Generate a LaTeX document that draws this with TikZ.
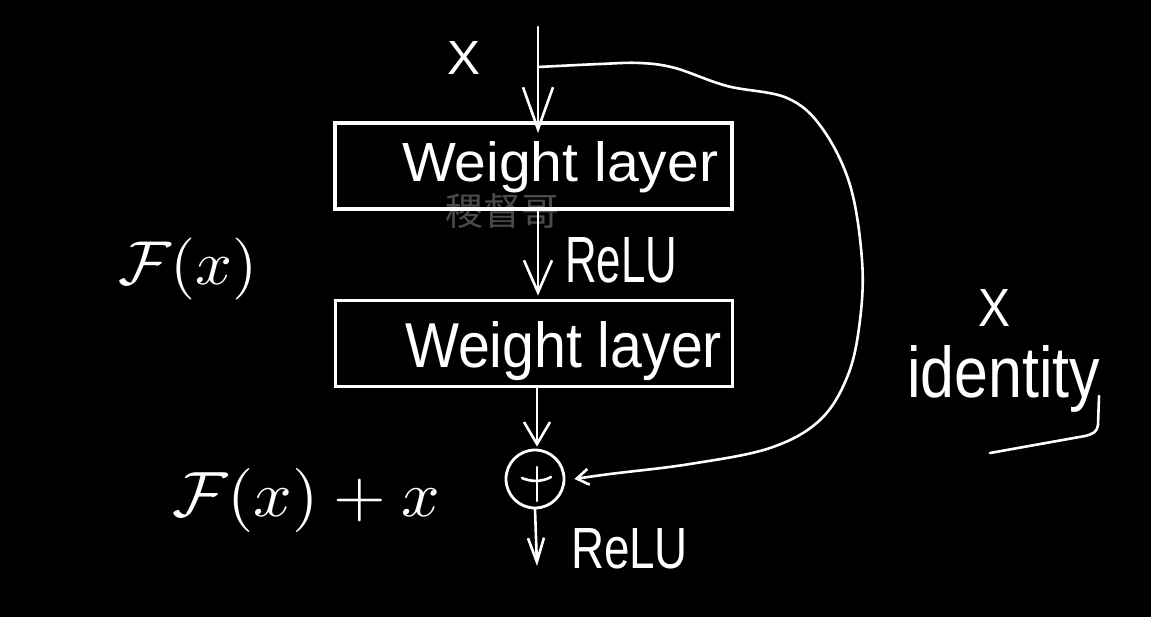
\documentclass[tikz,border=0pt]{standalone}
\usepackage{fontspec}
\usepackage{graphicx}
\setmainfont{Liberation Sans}
\newfontfamily\cjk{Noto Sans CJK SC}
\usetikzlibrary{arrows.meta,calc}
\definecolor{wmgray}{HTML}{4A4A4A}
\begin{document}
\begin{tikzpicture}[x=1pt,y=-1pt,
  box/.style={draw=white, line width=3.8pt, minimum width=397pt, minimum height=86pt, inner sep=0pt},
  lbl/.style={inner sep=0pt, outer sep=0pt, text=white},
  conn/.style={draw=white, line width=2.6pt, line cap=round, line join=round},
  arrTop/.style={-{Straight Barb[length=42pt,width=30pt]}},
  arrMid/.style={-{Straight Barb[length=32pt,width=28pt]}},
  arrBot/.style={-{Straight Barb[length=22pt,width=26pt]}},
  arrOut/.style={-{Straight Barb[length=24pt,width=16pt]}},
  arrIn/.style={-{Straight Barb[length=12pt,width=16pt]}}
]
\fill[black] (0,0) rectangle (1151,617);
\useasboundingbox (0,0) rectangle (1151,617);

% watermark
\node[lbl, text=wmgray, anchor=base west] (wm) at (445,226) {\cjk\fontsize{38}{38}\selectfont 稷督哥};

% boxes
\node[box] (b1) at (533.5,166) {};
\node[box] (b2) at (534,343.5) {};
\node[lbl, anchor=base west] (t1) at (402,182) {\resizebox{316pt}{40pt}{Weight layer}};
\node[lbl, anchor=base west] (t2) at (405,368) {\resizebox{317pt}{46pt}{Weight layer}};

% sum node
\node[draw=white, circle, line width=2.8pt, minimum size=58pt, inner sep=0pt] (plus) at (535,479) {};
\draw[conn] ($(plus.center)+(-13,-1)$) .. controls ($(plus.center)+(-4,3)$) and ($(plus.center)+(7,3)$) .. ($(plus.center)+(16,-2)$);
\draw[conn] ($(plus.center)+(2,-12)$) -- ($(plus.center)+(2,22)$);

% labels
\node[lbl, anchor=base west] (xtop) at (447,75) {\resizebox{33pt}{33pt}{X}};
\node[lbl, anchor=base west] (relu1) at (565,283) {\resizebox{112pt}{45pt}{ReLU}};
\node[lbl, anchor=base west] (relu2) at (571,568) {\resizebox{117pt}{40pt}{ReLU}};
\node[lbl, anchor=base west] (xright) at (978,327) {\resizebox{32pt}{37pt}{X}};
\node[lbl, anchor=base west] (ident) at (907,398) {\resizebox{193pt}{52pt}{identity}};
\node[lbl, anchor=north west] (fx) at (118,238) {\resizebox*{140pt}{62pt}{$\mathcal{F}(x)$}};
\node[lbl, anchor=north west] (fxx) at (172,468) {\resizebox*{268pt}{64pt}{$\mathcal{F}(x)+x$}};
\draw[conn] (1099,396) -- (1098,425) .. controls (1097,432) and (1093,434) .. (1085,436) -- (990,453);

% connectors
\coordinate (in) at (538,27);
\coordinate (split) at (538,67);
\coordinate (out) at (537,566);
\draw[conn, arrTop] (in) -- ($(b1.north -| in)+(0,12)$);
\draw[conn, arrMid] ($(b1.south)+(4.5,0)$) -- ($(b2.north)+(4,-3)$);
\draw[conn, arrBot] ($(b2.south)+(3,0)$) -- ($(plus.north)+(2,-2)$);
\draw[conn, arrOut] (plus.south) -- (out);
\draw[conn, arrIn] plot[smooth, tension=0.6] coordinates {(split) (600,64) (640,63) (675,68) (727,86) (787,98) (822,128) (850,185) (862,260) (860,320) (848,375) (820,420) (770,448) (690,464) (610,474) ($(plus.east)+(9,0)$)};
\end{tikzpicture}
\end{document}
